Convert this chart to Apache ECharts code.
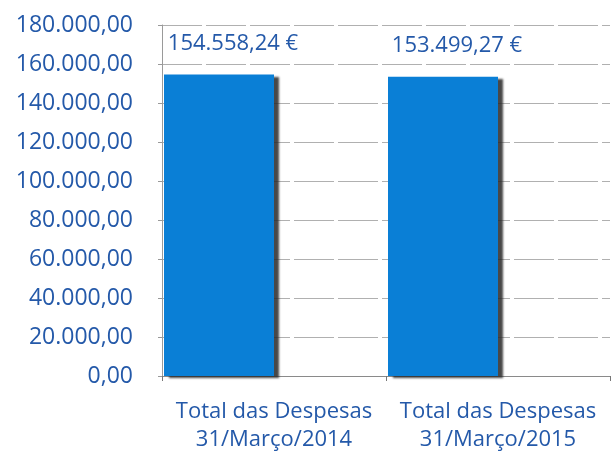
<!DOCTYPE html>
<html>
<head>
<meta charset="utf-8">
<script src="https://cdn.jsdelivr.net/npm/echarts@6/dist/echarts.min.js"></script>
<style>
  html, body { margin: 0; padding: 0; background: #fff; }
  #chart { width: 613px; height: 455px; }
</style>
</head>
<body>
<div id="chart"></div>
<script>
const categories = ['Total das Despesas\n31/Março/2014', 'Total das Despesas\n31/Março/2015'];
const despesas = [154558.24, 153499.27];
// empty slot to the right of each bar (the bars sit on the left of their category)
const spacer = [null, null];
const yTicks = [0, 20000, 40000, 60000, 80000, 100000, 120000, 140000, 160000, 180000];

const textBlue = '#2459a9';
const font = '"Open Sans", "Noto Sans", sans-serif';

function fmtPt(v, dec) {
    const parts = v.toFixed(dec).split('.');
    parts[0] = parts[0].replace(/\B(?=(\d{3})+(?!\d))/g, '.');
    return parts.join(',');
}

const chart = echarts.init(document.getElementById('chart'));
chart.setOption({
    backgroundColor: '#fff',
    animation: false,
    grid: { left: 162, right: 3, top: 25, bottom: 79 },
    xAxis: {
        type: 'category',
        data: categories,
        axisLine: { lineStyle: { color: '#8a8a8a', width: 1 } },
        axisTick: { show: true, length: 5, lineStyle: { color: '#777' } },
        axisLabel: {
            interval: 0,
            hideOverlap: false,
            color: textBlue, fontFamily: font, fontSize: 22,
            lineHeight: 28, margin: 22
        }
    },
    yAxis: {
        type: 'value',
        min: yTicks[0],
        max: yTicks[yTicks.length - 1],
        interval: 20000,
        axisLine: { show: true, lineStyle: { color: '#9a9a9a' } },
        axisTick: { show: true, length: 4, lineStyle: { color: '#999' } },
        axisLabel: {
            color: textBlue, fontFamily: font, fontSize: 23, margin: 29,
            formatter: v => fmtPt(v, 2)
        },
        splitLine: { show: true, lineStyle: { color: '#b0b0b0', width: 1, type: [40, 4] } }
    },
    series: [
        {
            name: 'Despesas',
            type: 'bar',
            data: despesas,
            barWidth: 110,
            barGap: '0%',
            itemStyle: {
                color: '#0a7fd6',
                shadowColor: 'rgba(40,40,40,0.85)',
                shadowOffsetX: 5,
                shadowOffsetY: 2,
                shadowBlur: 2
            },
            label: {
                show: true,
                position: 'top',
                distance: 20,
                offset: [14, 0],
                color: textBlue,
                fontFamily: font,
                fontSize: 22,
                formatter: p => fmtPt(p.value, 2) + ' €'
            }
        },
        {
            name: 'spacer',
            type: 'bar',
            data: spacer,
            barWidth: 110,
            silent: true
        }
    ]
});
</script>
</body>
</html>
